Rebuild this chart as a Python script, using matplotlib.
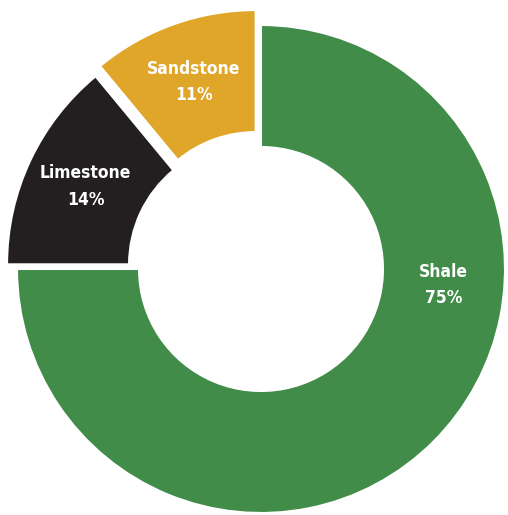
import numpy as np
import matplotlib.pyplot as plt

rock_types = ['Shale', 'Limestone', 'Sandstone']
shares = [75, 14, 11]
colors = ['#408c48', '#231f20', '#e0a62a']
explode = [0, 0.045, 0.065]

fig = plt.figure(figsize=(5.08, 5.15), dpi=100)
ax = fig.add_axes([0, 0, 1, 1])

wedges, texts, pcts = ax.pie(
    shares, colors=colors, explode=explode, startangle=90, counterclock=False,
    radius=1, pctdistance=0.75,
    autopct=lambda p: '',
    wedgeprops=dict(width=0.5, edgecolor='white', linewidth=1.5),
)

# replace the default percent texts with name + share
for t, name, val in zip(pcts, rock_types, shares):
    t.set_text(f'{name}\n{val}%')
    t.set_color('white')
    t.set_fontsize(12.5)
    t.set_fontweight('bold')
    t.set_family('DejaVu Sans')
    t.set_fontstretch('condensed')
    t.set_linespacing(1.6)

# shale label sits just below 3 o'clock
ang = np.deg2rad(-5)
pcts[0].set_position((0.75 * np.cos(ang), 0.75 * np.sin(ang)))

ax.set_xlim(-261 / 244, (508 - 261) / 244)
ax.set_ylim(-(515 - 269) / 244, 269 / 244)
ax.axis('off')

fig.savefig('out.png', dpi=100)
